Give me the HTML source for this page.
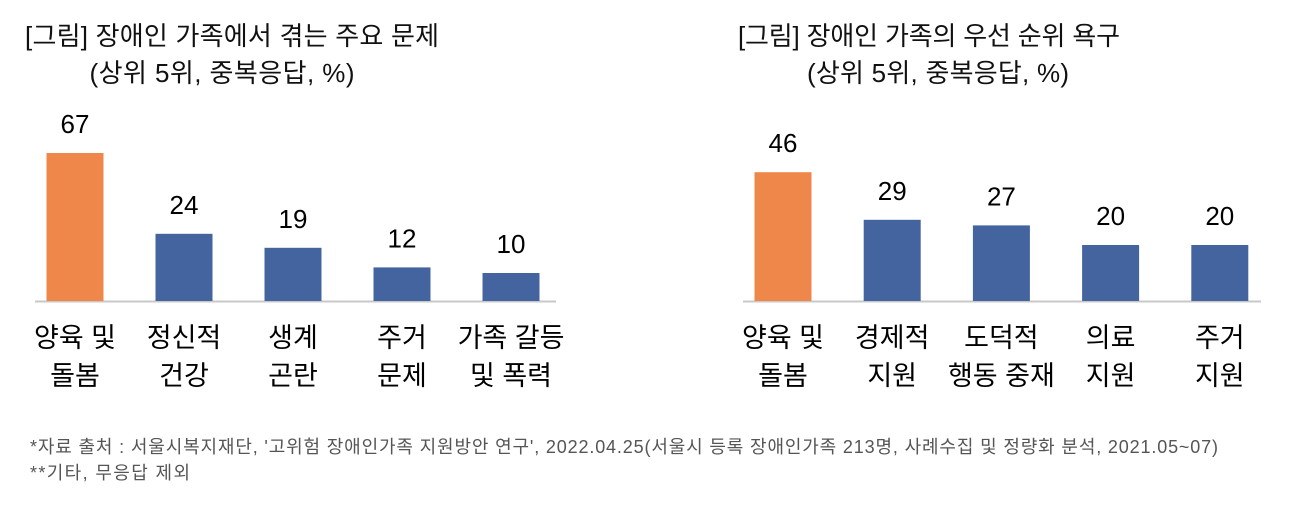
<!DOCTYPE html>
<html><head><meta charset="utf-8"><style>
body{margin:0;background:#fff;}
svg text{font-family:"Liberation Sans","Noto Sans CJK KR",sans-serif;}
</style></head><body>
<svg id="c" width="1310" height="506" xmlns="http://www.w3.org/2000/svg">
<g font-size="26" fill="#111" text-anchor="middle">
<text x="232" y="45" textLength="414">[그림] 장애인 가족에서 겪는 주요 문제</text>
<text x="222" y="82" textLength="265">(상위 5위, 중복응답, %)</text>
<text x="929" y="45" textLength="382">[그림] 장애인 가족의 우선 순위 욕구</text>
<text x="938" y="82" textLength="262">(상위 5위, 중복응답, %)</text>
</g>
<line x1="35" y1="301.5" x2="556" y2="301.5" stroke="#c8c8c8" stroke-width="2"/>
<line x1="743" y1="301.5" x2="1261" y2="301.5" stroke="#c8c8c8" stroke-width="2"/>
<g id="bars"></g>
<g font-size="18" fill="#555">
<text x="30" y="453" textLength="1188">*자료 출처 : 서울시복지재단, '고위험 장애인가족 지원방안 연구', 2022.04.25(서울시 등록 장애인가족 213명, 사례수집 및 정량화 분석, 2021.05~07)</text>
<text x="30" y="479" textLength="160">**기타, 무응답 제외</text>
</g>
</svg>
<script>
const leftCategories=[["양육 및","돌봄"],["정신적","건강"],["생계","곤란"],["주거","문제"],["가족 갈등","및 폭력"]];
const leftValues=[67,24,19,12,10];
const rightCategories=[["양육 및","돌봄"],["경제적","지원"],["도덕적","행동 중재"],["의료","지원"],["주거","지원"]];
const rightValues=[46,29,27,20,20];
const NS="http://www.w3.org/2000/svg";
const g=document.getElementById('bars');
const baseY=301, scale=2.8, maxH=148;
function yH(v){return Math.min(v*scale,maxH);}
function draw(cats,vals,x0,step){
  vals.forEach((v,i)=>{
    const cx=x0+i*step, h=yH(v);
    const r=document.createElementNS(NS,'rect');
    r.setAttribute('x',cx-28.5);r.setAttribute('y',baseY-h);
    r.setAttribute('width',57);r.setAttribute('height',h);
    r.setAttribute('fill',i===0?'#F0874A':'#4464A0');
    
    
    g.appendChild(r);
    const t=document.createElementNS(NS,'text');
    t.setAttribute('x',cx);t.setAttribute('y',baseY-h-20);
    t.setAttribute('text-anchor','middle');t.setAttribute('font-size','26');
    t.textContent=v;
    
    
    g.appendChild(t);
    cats[i].forEach((line,j)=>{
      const c=document.createElementNS(NS,'text');
      c.setAttribute('x',cx);c.setAttribute('y',347+j*38);
      c.setAttribute('text-anchor','middle');c.setAttribute('font-size','27');
      c.textContent=line;
      
      
      g.appendChild(c);
    });
  });
}
draw(leftCategories,leftValues,75,109);
draw(rightCategories,rightValues,783,109.2);
</script>
</body></html>
